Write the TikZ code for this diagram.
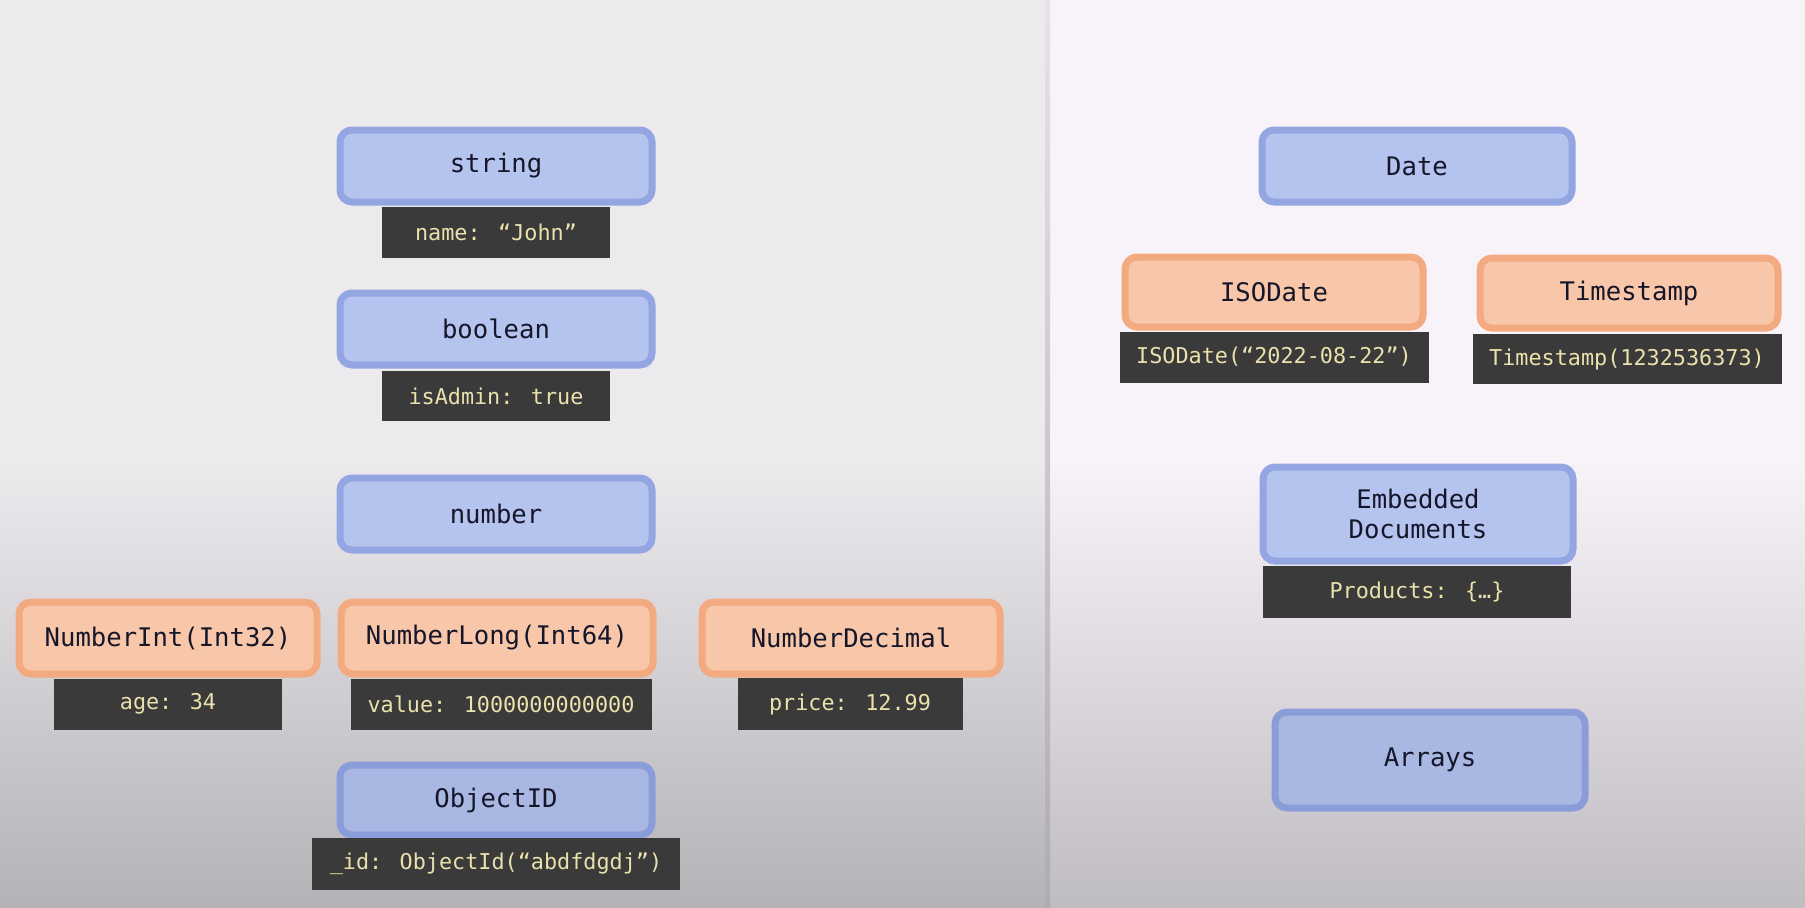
\documentclass[tikz,border=0pt]{standalone}
\usepackage{fontspec}
\newfontfamily\codefont{DejaVu Sans Mono}
\definecolor{bgL}{HTML}{EDEAEE}
\definecolor{bgLb}{HTML}{B6B3B8}
\definecolor{bgR}{HTML}{F7F3F8}
\definecolor{bgRb}{HTML}{C0BDC2}
\definecolor{divc}{HTML}{E6E3E8}
\definecolor{divcb}{HTML}{B0ADB2}
\definecolor{bfill}{HTML}{B5C3EF}
\definecolor{bdraw}{HTML}{93A6E1}
\definecolor{bfillD}{HTML}{A9B7E3}
\definecolor{bdrawD}{HTML}{8B9DD8}
\definecolor{ofill}{HTML}{F8C6A8}
\definecolor{odraw}{HTML}{F4AA80}
\definecolor{lfill}{HTML}{3A3A3A}
\definecolor{ltext}{HTML}{EAE1AC}
\definecolor{dtext}{HTML}{16162A}
\tikzset{
  typebox/.style={rectangle, rounded corners=6pt, line width=3.5pt, inner sep=0pt,
    text=dtext, font=\codefont\fontsize{12.8}{15}\selectfont, align=center},
  bluebox/.style={typebox, fill=bfill, draw=bdraw},
  blueboxD/.style={typebox, fill=bfillD, draw=bdrawD},
  orangebox/.style={typebox, fill=ofill, draw=odraw},
  codelabel/.style={rectangle, fill=lfill, inner sep=0pt, text=ltext,
    font=\codefont\fontsize{10.9}{13}\selectfont}
}
\begin{document}
\begin{tikzpicture}[x=0.5pt,y=-0.5pt]
\useasboundingbox (0,0) rectangle (1805,907);
% background panels
\fill[bgL] (0,0) rectangle (1046,460);
\shade[top color=bgL, bottom color=bgLb] (0,459) rectangle (1046,907);
\fill[bgR] (1050,0) rectangle (1805,460);
\shade[top color=bgR, bottom color=bgRb] (1050,459) rectangle (1805,907);
\shade[top color=divc, bottom color=divcb] (1045,0) rectangle (1050,907);

% left column
\node[bluebox, minimum width=156pt, minimum height=36pt] (string) at (496,166) {string};
\node[codelabel, minimum width=114pt, minimum height=25.5pt] (nameL) at (496,232) {name: “John”};
\node[bluebox, minimum width=156pt, minimum height=36pt] (boolean) at (496,329) {boolean};
\node[codelabel, minimum width=114pt, minimum height=25pt] (isAdminL) at (496,396) {isAdmin: true};
\node[bluebox, minimum width=156pt, minimum height=36pt] (number) at (496,514) {number};

\node[orangebox, minimum width=149pt, minimum height=36pt] (numInt) at (168,638) {NumberInt(Int32)};
\node[codelabel, minimum width=114pt, minimum height=25.5pt] (ageL) at (168,704) {age: 34};
\node[orangebox, minimum width=156pt, minimum height=36pt] (numLong) at (497,638) {NumberLong(Int64)};
\node[codelabel, minimum width=150.5pt, minimum height=25.5pt] (valueL) at (501,704) {value: 1000000000000};
\node[orangebox, minimum width=149pt, minimum height=36pt] (numDec) at (851,638) {NumberDecimal};
\node[codelabel, minimum width=112.5pt, minimum height=26pt] (priceL) at (850,704) {price: 12.99};

\node[blueboxD, minimum width=156pt, minimum height=35pt] (objectID) at (496,800) {ObjectID};
\node[codelabel, minimum width=184pt, minimum height=26pt] (idL) at (496,864) {\_id: ObjectId(“abdfdgdj”)};

% right column
\node[bluebox, minimum width=155pt, minimum height=36pt] (date) at (1417,166) {Date};
\node[orangebox, minimum width=149pt, minimum height=35pt] (isodate) at (1274,292) {ISODate};
\node[codelabel, minimum width=154.5pt, minimum height=25.5pt] (isodateL) at (1274,357) {ISODate(“2022-08-22”)};
\node[orangebox, minimum width=149pt, minimum height=35pt] (timestamp) at (1629,293) {Timestamp};
\node[codelabel, minimum width=154.5pt, minimum height=25pt] (timestampL) at (1627,359) {Timestamp(1232536373)};

\node[bluebox, minimum width=155pt, minimum height=47pt] (embedded) at (1418,514) {Embedded\\Documents};
\node[codelabel, minimum width=154pt, minimum height=26pt] (productsL) at (1417,592) {Products: \{…\}};

\node[blueboxD, minimum width=155pt, minimum height=48pt] (arrays) at (1430,760) {Arrays};
\end{tikzpicture}
\end{document}
